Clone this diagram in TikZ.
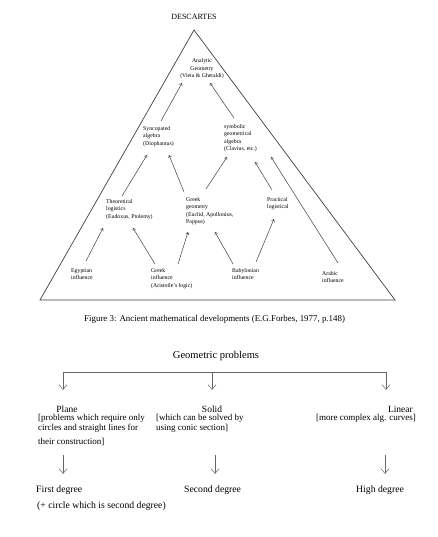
\documentclass[tikz,border=0pt]{standalone}
\usepackage{fontspec}
\setmainfont{Liberation Serif}
\usetikzlibrary{calc,arrows.meta}
\begin{document}
\begin{tikzpicture}[x=1pt,y=-1pt,
  tri/.style={font=\fontsize{5.8}{7.5}\selectfont, inner sep=0pt, anchor=north west, align=left},
  arr/.style={draw=black!75, line width=0.5pt, -{Straight Barb[length=2.2pt,width=3.2pt]}},
  bigarr/.style={draw=black!60, line width=0.5pt, -{Straight Barb[length=5pt,width=8pt]}},
  edge/.style={draw=black!75, line width=0.7pt},
  head/.style={inner sep=0pt, anchor=base, font=\fontsize{9.5}{11}\selectfont},
  brk/.style={inner sep=0pt, anchor=north west, align=left, font=\fontsize{9}{10}\selectfont},
  deg/.style={inner sep=0pt, anchor=base west, font=\fontsize{9.7}{11}\selectfont}
]
\useasboundingbox (0,0) rectangle (438,537);
\fill[white] (0,0) rectangle (438,537);

% ---------- triangle ----------
\node[inner sep=0pt, anchor=base, font=\fontsize{8}{9}\selectfont] (desc) at (194,20) {DESCARTES};
\coordinate (apex) at (194,30);
\coordinate (bl) at (40,300);
\coordinate (br) at (395,300);
\draw[edge] (bl) -- (apex) -- (br) -- cycle;

\node[tri, anchor=north, align=center] (ana) at (202,58.5) {Analytic\\Geometry\\(Vieta \& Ghetaldi)};
\node[tri] (syn) at (143,126) {Syncopated\\algebra\\(Diophantus)};
\node[tri] (sym) at (224,124) {symbolic\\geometrical\\algebra\\(Clavius, etc.)};
\node[tri] (theo) at (106,199) {Theoretical\\logistics\\(Eudoxus, Ptolemy)};
\node[tri] (ggeo) at (186,197) {Greek\\geometry\\(Euclid, Apollonius,\\Pappus)};
\node[tri] (prac) at (267,197) {Practical\\logistical};
\node[tri] (egy) at (71,268) {Egyptian\\influence};
\node[tri] (ginf) at (151,268) {Greek\\influence\\(Aristotle's logic)};
\node[tri] (baby) at (232,268) {Babylonian\\influence};
\node[tri] (arab) at (322,271) {Arabic\\influence};

\draw[arr] ($(syn.north west)+(18,-5)$) -- ($(ana.north)+(-20,24.5)$);
\draw[arr] ($(sym.north west)+(10,-6)$) -- ($(ana.north)+(8,24.5)$);
\draw[arr] ($(theo.north west)+(16,-3)$) -- ($(syn.north west)+(4,29)$);
\draw[arr] ($(ggeo.north west)+(-2,-5)$) -- ($(syn.north west)+(26,29)$);
\draw[arr] ($(ggeo.north west)+(20,-8)$) -- ($(sym.north west)+(3,33)$);
\draw[arr] ($(prac.north west)+(5,-7)$) -- ($(sym.north west)+(31,38)$);
\draw[arr] ($(arab.north west)+(16,-8)$) -- ($(sym.north west)+(47,33)$);
\draw[arr] ($(egy.north west)+(15,-7)$) -- ($(theo.north west)+(-3,29)$);
\draw[arr] ($(ginf.north west)+(4,-4)$) -- ($(theo.north west)+(27,29)$);
\draw[arr] ($(ginf.north west)+(27,-4)$) -- ($(ggeo.north west)+(2,35)$);
\draw[arr] ($(baby.north west)+(1,-4)$) -- ($(ggeo.north west)+(29,35)$);
\draw[arr] ($(baby.north west)+(24,-6)$) -- ($(prac.north west)+(7,22)$);

\node[inner sep=0pt, anchor=base west, font=\fontsize{8.9}{10}\selectfont] (cap) at (84,321)
  {Figure 3: Ancient mathematical developments (E.G.Forbes, 1977, p.148)};

% ---------- geometric problems ----------
\node[inner sep=0pt, anchor=base, font=\fontsize{10.5}{12}\selectfont] (geo) at (216,358) {Geometric problems};
\coordinate (bL) at (63,372);
\coordinate (bM) at (212,372);
\coordinate (bR) at (386,372);
\coordinate (eL) at (63,390);
\coordinate (eM) at (212,390);
\coordinate (eR) at (386,390);
\draw[draw=black!60, line width=0.5pt] (bL) -- (bR);
\draw[bigarr] (bL) -- (eL);
\draw[bigarr] (bM) -- (eM);
\draw[bigarr] (bR) -- (eR);

\node[head] (plane) at (67,412) {Plane};
\node[head] (solid) at (212,412) {Solid};
\node[head, anchor=base east] (lin) at (413,412) {Linear};
\node[brk] (pbr) at (38,414) {[problems which require only\\circles and straight lines for\\[4pt]their construction]};
\node[brk] (sbr) at (156,414) {[which can be solved by\\using conic section]};
\node[brk, anchor=north east] (lbr) at (416,414) {[more complex alg. curves]};

\coordinate (fL) at (63,455);
\coordinate (fM) at (215,455);
\coordinate (fR) at (385,455);
\coordinate (gL) at (63,474);
\coordinate (gM) at (215,474);
\coordinate (gR) at (385,474);
\draw[bigarr] (fL) -- (gL);
\draw[bigarr] (fM) -- (gM);
\draw[bigarr] (fR) -- (gR);

\node[deg] (first) at (36,492) {First degree};
\node[deg] (second) at (184,492) {Second degree};
\node[deg] (high) at (356,492) {High degree};
\node[deg] (circ) at (37,508) {(+ circle which is second degree)};
\end{tikzpicture}
\end{document}
